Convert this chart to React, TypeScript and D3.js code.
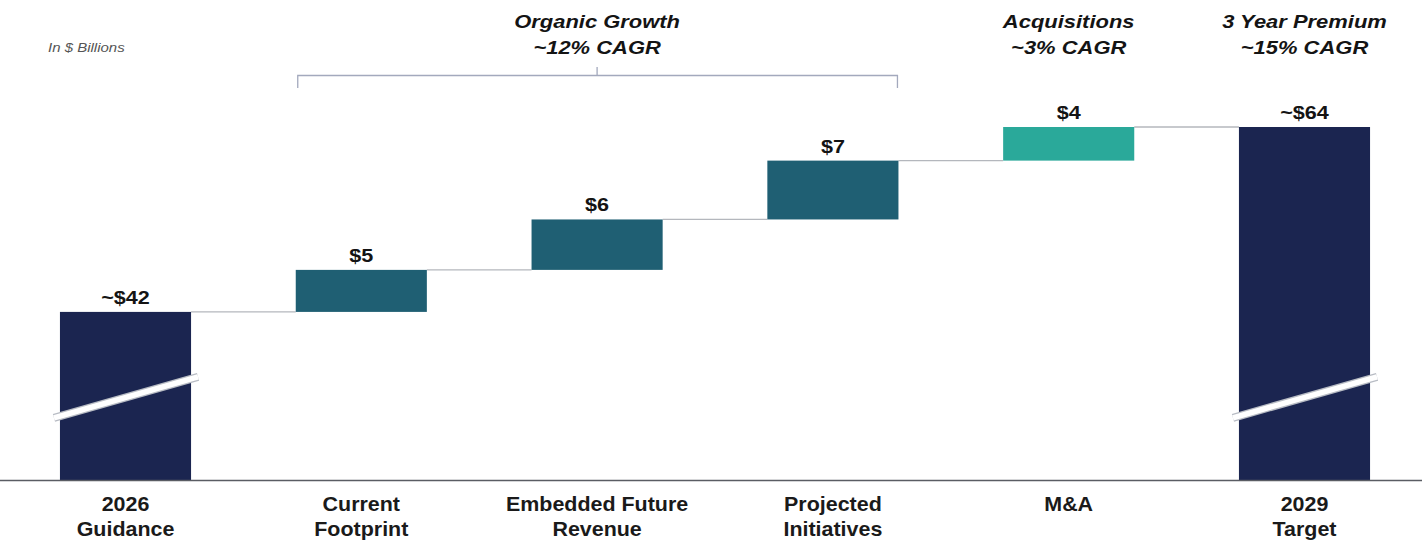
import * as d3 from "d3";
import { useEffect, useRef } from "react";

const WIDTH = 1428;
const HEIGHT = 547;
const BASELINE = 480;
const TOP = 127;

const CATEGORIES = ["guidance", "footprint", "embedded", "projected", "ma", "target"];
const LABELS = [
  ["2026", "Guidance"],
  ["Current", "Footprint"],
  ["Embedded Future", "Revenue"],
  ["Projected", "Initiatives"],
  ["M&A", ""],
  ["2029", "Target"],
];
const VALUES = [42, 5, 6, 7, 4, 64];
const KINDS = ["total", "delta", "delta", "delta", "acq", "total"];
const VALUE_LABELS = ["~$42", "$5", "$6", "$7", "$4", "~$64"];
const BREAK_VALUE = 31.9;
const Y_DOMAIN = [22, 64];

const GROUPS = [
  { from: "footprint", to: "projected", lines: ["Organic Growth", "~12% CAGR"], bracket: true },
  { from: "ma", to: "ma", lines: ["Acquisitions", "~3% CAGR"], bracket: false },
  { from: "target", to: "target", lines: ["3 Year Premium", "~15% CAGR"], bracket: false },
];

const COLORS: Record<string, string> = {
  total: "#1b2550",
  delta: "#1f5f73",
  acq: "#2aa99a",
};

const FONT = "'Liberation Sans', Arial, sans-serif";

export default function App() {
  const svgRef = useRef<SVGSVGElement>(null);

  useEffect(() => {
    if (!svgRef.current) return;
    const svg = d3.select(svgRef.current);
    svg.selectAll("*").remove();

    const x = d3
      .scaleBand()
      .domain(CATEGORIES)
      .range([1, WIDTH + 1])
      .paddingInner(0.444)
      .paddingOuter(0.25);

    const y = d3.scaleLinear().domain(Y_DOMAIN).range([BASELINE, TOP]);

    // texte étiré horizontalement comme dans l'original
    const label = (
      cx: number,
      cy: number,
      text: string,
      size: number,
      sx: number,
      opts: { italic?: boolean; bold?: boolean; anchor?: string; fill?: string } = {}
    ) =>
      svg
        .append("g")
        .attr("transform", `translate(${cx},${cy}) scale(${sx},1)`)
        .append("text")
        .attr("text-anchor", opts.anchor ?? "middle")
        .attr("font-family", FONT)
        .attr("font-weight", opts.bold === false ? "normal" : "bold")
        .attr("font-style", opts.italic ? "italic" : "normal")
        .attr("font-size", size)
        .attr("fill", opts.fill ?? "#141414")
        .text(text);

    // waterfall levels
    let running = 0;
    const bars = CATEGORIES.map((c, i) => {
      let start: number, end: number;
      if (KINDS[i] === "total") {
        start = Y_DOMAIN[0];
        end = VALUES[i];
        running = VALUES[i];
      } else {
        start = running;
        end = running + VALUES[i];
        running = end;
      }
      return { c, i, start, end };
    });

    // connectors
    svg
      .append("g")
      .selectAll("line")
      .data(bars.slice(0, -1))
      .enter()
      .append("line")
      .attr("x1", (d) => x(d.c)! + x.bandwidth())
      .attr("x2", (d) => x(CATEGORIES[d.i + 1])!)
      .attr("y1", (d) => y(d.end))
      .attr("y2", (d) => y(d.end))
      .attr("stroke", "#b4b7bd")
      .attr("stroke-width", 1.3);

    // bars
    svg
      .append("g")
      .selectAll("rect")
      .data(bars)
      .enter()
      .append("rect")
      .attr("x", (d) => x(d.c)!)
      .attr("y", (d) => y(d.end))
      .attr("width", x.bandwidth())
      .attr("height", (d) => y(d.start) - y(d.end))
      .attr("fill", (d) => COLORS[KINDS[d.i]]);

    // axis break slashes on total bars
    const breaks = bars.filter((d) => KINDS[d.i] === "total");
    const slash = (d: (typeof bars)[number]) => {
      const cy = y(BREAK_VALUE);
      const x0 = x(d.c)! - 6;
      const x1 = x(d.c)! + x.bandwidth() + 7;
      return { x0, x1, y0: cy + 21, y1: cy - 20 };
    };
    const slashes = svg.append("g");
    slashes
      .selectAll("line.edge")
      .data(breaks)
      .enter()
      .append("line")
      .attr("class", "edge")
      .attr("x1", (d) => slash(d).x0)
      .attr("x2", (d) => slash(d).x1)
      .attr("y1", (d) => slash(d).y0)
      .attr("y2", (d) => slash(d).y1)
      .attr("stroke", "#b8bcc4")
      .attr("stroke-width", 8);
    slashes
      .selectAll("line.fill")
      .data(breaks)
      .enter()
      .append("line")
      .attr("class", "fill")
      .attr("x1", (d) => slash(d).x0)
      .attr("x2", (d) => slash(d).x1)
      .attr("y1", (d) => slash(d).y0)
      .attr("y2", (d) => slash(d).y1)
      .attr("stroke", "#ffffff")
      .attr("stroke-width", 5.5);

    // baseline
    svg
      .append("line")
      .attr("x1", 0)
      .attr("x2", WIDTH - 6)
      .attr("y1", BASELINE + 0.5)
      .attr("y2", BASELINE + 0.5)
      .attr("stroke", "#5a5d63")
      .attr("stroke-width", 1.5);

    // value labels
    bars.forEach((d) => {
      label(x(d.c)! + x.bandwidth() / 2, y(d.end) - 8, VALUE_LABELS[d.i], 18, 1.2);
    });

    // category labels
    CATEGORIES.forEach((c, i) => {
      LABELS[i].forEach((t, j) => {
        if (t) label(x(c)! + x.bandwidth() / 2, 511 + j * 25, t, 19.5, 1.1, { fill: "#1a1a1a" });
      });
    });

    // group headers
    GROUPS.forEach((g) => {
      const left = x(g.from)!;
      const right = x(g.to)! + x.bandwidth();
      const cx = (left + right) / 2;
      g.lines.forEach((t, j) => {
        label(cx, 28 + j * 26, t, 18, 1.22, { italic: true });
      });
      if (g.bracket) {
        svg
          .append("path")
          .attr("d", `M${left + 2},88 V75.5 H${right - 1} V88 M${cx},75.5 V67`)
          .attr("fill", "none")
          .attr("stroke", "#a3a9bd")
          .attr("stroke-width", 1.3);
      }
    });

    // unit note
    label(48, 52, "In $ Billions", 12, 1.25, {
      italic: true,
      bold: false,
      anchor: "start",
      fill: "#555",
    });
  }, []);

  return (
    <svg
      ref={svgRef}
      width={WIDTH}
      height={HEIGHT}
      style={{ position: "absolute", left: 0, top: 0, background: "#fff" }}
    />
  );
}
